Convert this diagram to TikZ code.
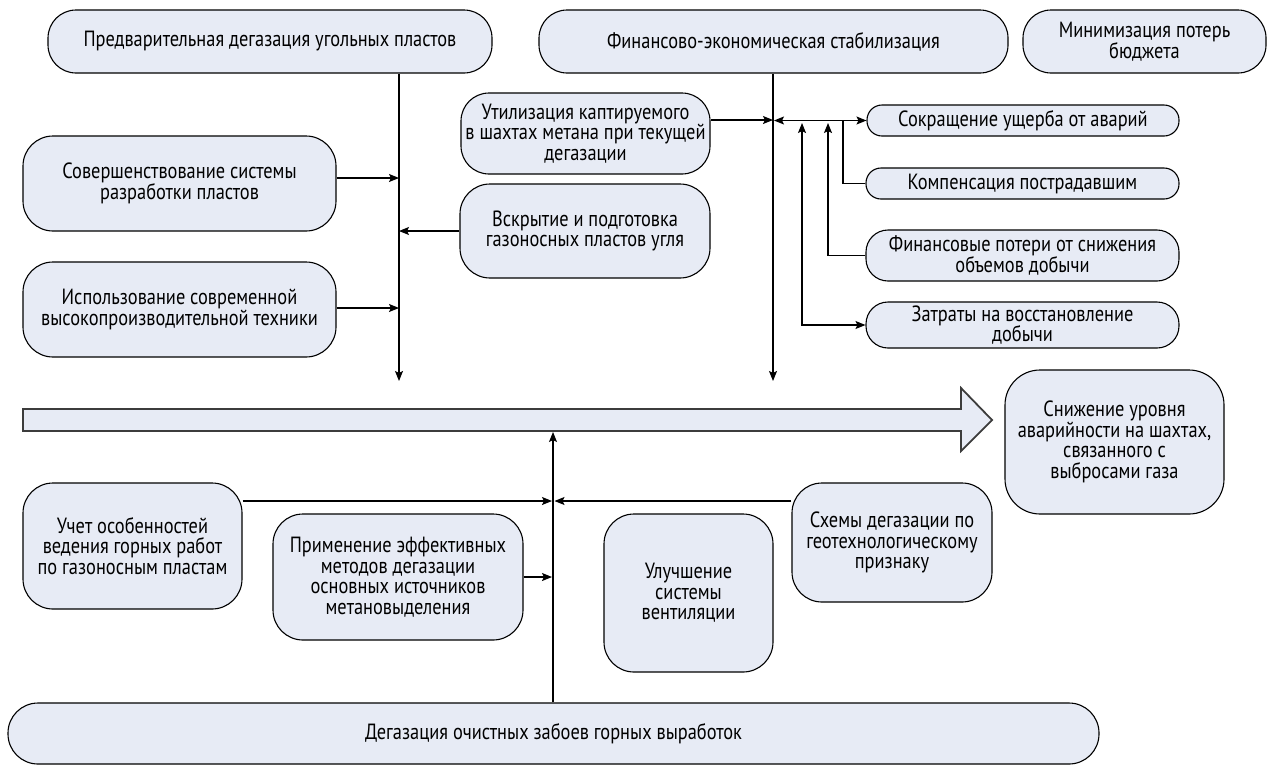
\documentclass[tikz,border=0pt]{standalone}
\usepackage{fontspec}
\setmainfont[FakeStretch=0.835]{PT Sans}
\usetikzlibrary{arrows.meta}
\definecolor{boxfill}{RGB}{231,235,245}
\definecolor{barline}{RGB}{60,60,60}
\begin{document}
\begin{tikzpicture}[x=1pt,y=-1pt,
  box/.style={draw=black, line width=1.1pt, fill=boxfill, align=center, inner sep=0pt,
     font=\fontsize{22}{20.5}\selectfont},
  conn/.style={draw=black, line width=1.1pt},
  arr/.style={conn, -{Stealth[length=10pt,width=8pt,inset=2pt]}},
  barr/.style={conn, {Stealth[length=10pt,width=8pt,inset=2pt]}-{Stealth[length=10pt,width=8pt,inset=2pt]}}]
\useasboundingbox (0,0) rectangle (1268,764);

% top boxes
\node[box, minimum width=444pt, minimum height=63pt, rounded corners=28pt] (b1) at (270,41.5) {Предварительная дегазация угольных пластов};
\node[box, minimum width=469pt, minimum height=63pt, rounded corners=28pt] (b2) at (773.5,41.5) {Финансово-экономическая стабилизация};
\node[box, minimum width=243pt, minimum height=63pt, rounded corners=28pt] (b3) at (1144.5,41.5) {Минимизация потерь\\бюджета};

% left column
\node[box, minimum width=249pt, minimum height=81pt, rounded corners=28pt] (util) at (585.5,133.5) {Утилизация каптируемого\\в шахтах метана при текущей\\дегазации};
\node[box, minimum width=313pt, minimum height=95pt, rounded corners=30pt] (sov) at (179.5,183.5) {Совершенствование системы\\разработки пластов};
\node[box, minimum width=250pt, minimum height=94pt, rounded corners=30pt] (vskr) at (585,231) {Вскрытие и подготовка\\газоносных пластов угля};
\node[box, minimum width=313pt, minimum height=95pt, rounded corners=30pt] (isp) at (179.5,309.5) {Использование современной\\высокопроизводительной техники};

% right column
\node[box, minimum width=312pt, minimum height=31pt, rounded corners=15pt] (sokr) at (1023,120.5) {Сокращение ущерба от аварий};
\node[box, minimum width=313pt, minimum height=31pt, rounded corners=15pt] (komp) at (1022.5,183.5) {Компенсация пострадавшим};
\node[box, minimum width=313pt, minimum height=51pt, rounded corners=22pt] (fin) at (1022.5,255.5) {Финансовые потери от снижения\\объемов добычи};
\node[box, minimum width=313pt, minimum height=46pt, rounded corners=22pt] (zatr) at (1022.5,325) {Затраты на восстановление\\добычи};

% result
\node[box, minimum width=219pt, minimum height=144pt, rounded corners=35pt] (snizh) at (1114.5,442) {Снижение уровня\\аварийности на шахтах,\\связанного с\\выбросами газа};

% lower boxes
\node[box, minimum width=219pt, minimum height=126pt, rounded corners=30pt] (uchet) at (132.5,546) {Учет особенностей\\ведения горных работ\\по газоносным пластам};
\node[box, minimum width=250pt, minimum height=126pt, rounded corners=30pt] (prim) at (398,577) {Применение эффективных\\методов дегазации\\основных источников\\метановыделения};
\node[box, minimum width=169pt, minimum height=158pt, rounded corners=30pt] (ulu) at (688.5,593) {Улучшение\\системы\\вентиляции};
\node[box, minimum width=200pt, minimum height=119pt, rounded corners=30pt] (skhem) at (892,542.5) {Схемы дегазации по\\геотехнологическому\\признаку};
\node[box, minimum width=1091pt, minimum height=61pt, rounded corners=30pt] (bot) at (553.5,733.5) {Дегазация очистных забоев горных выработок};

% big arrow bar
\draw[draw=barline, line width=1.8pt, fill=boxfill, line join=miter]
  (23,409) -- (961,409) -- (961,388) -- (992,420) -- (961,451) -- (961,431) -- (23,431) -- cycle;

% coordinates
\coordinate (v1) at (399,381);
\coordinate (v2) at (773,381);
\coordinate (v3) at (553,432);
\coordinate (j1) at (843,121);
\coordinate (j2) at (828,123);
\coordinate (j3) at (802,123);

% left trunk
\draw[arr] (b1.south -| v1) -- (v1);
\draw[arr] ([yshift=5.5pt]sov.east) -- ([yshift=5.5pt]sov.east -| v1);
\draw[arr] (vskr.west) -- (vskr.west -| v1);
\draw[arr] ([yshift=1.5pt]isp.east) -- ([yshift=1.5pt]isp.east -| v1);

% middle trunk
\draw[arr] (b2.south -| v2) -- (v2);
\draw[arr] ([yshift=13.5pt]util.east) -- ([yshift=13.5pt]util.east -| v2);
\draw[barr] ([xshift=1pt]sokr.west -| v2) -- (sokr.west);
\draw[conn] (komp.west) -| (j1);
\draw[arr] (fin.west) -| (j2);
\draw[barr] (j3) |- (zatr.west);

% lower trunk
\draw[arr] (bot.north -| v3) -- (v3);
\draw[arr] ([yshift=45pt]uchet.east) -- ([yshift=45pt,xshift=-1pt]uchet.east -| v3);
\draw[arr] (prim.east) -- ([xshift=-1pt]prim.east -| v3);
\draw[arr] ([yshift=41.5pt]skhem.west) -- ([yshift=41.5pt,xshift=1.5pt]skhem.west -| v3);
\end{tikzpicture}
\end{document}
